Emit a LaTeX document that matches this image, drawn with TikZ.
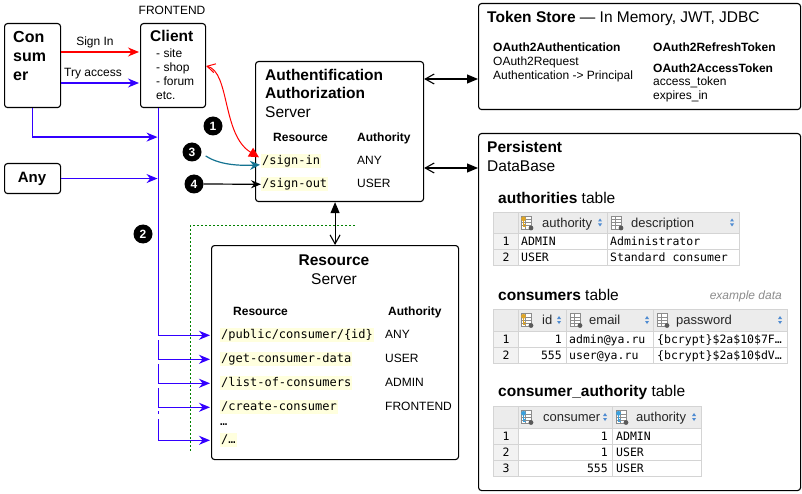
\documentclass[tikz,border=0pt]{standalone}
\usepackage{fontspec}
\setmainfont{Liberation Sans}
\setmonofont{DejaVu Sans Mono}
\usetikzlibrary{arrows.meta,calc}
\definecolor{cblue}{RGB}{51,0,255}
\definecolor{cred}{RGB}{255,0,0}
\definecolor{cteal}{RGB}{20,115,145}
\definecolor{cgreen}{RGB}{0,128,0}
\definecolor{hl}{RGB}{255,255,222}
\definecolor{thbg}{RGB}{236,236,236}
\definecolor{idxbg}{RGB}{242,242,242}
\definecolor{tgrid}{RGB}{212,212,212}
\definecolor{sortc}{RGB}{80,140,210}
\definecolor{keyy}{RGB}{222,165,40}
\definecolor{keyb}{RGB}{60,160,220}
\definecolor{icong}{RGB}{140,140,140}
\definecolor{icond}{RGB}{90,90,90}
\newcommand\fz[2]{\fontsize{#1}{#2}\selectfont}
\newcommand\colicon[2]{%
  \begin{scope}[shift={(#1,#2)}]
    \fill[white] (0,0) rectangle (10,13);
    \draw[icong, line width=0.6pt] (0,0) rectangle (10,13) (0,3.5) -- (10,3.5) (0,6.5) -- (10,6.5) (0,9.5) -- (10,9.5) (4,0) -- (4,13);
    \fill[icond] (10,12) circle (2.4);
  \end{scope}}
\newcommand\keyicon[3]{%
  \colicon{#1}{#2}
  \begin{scope}[shift={(#1,#2)}]
    \fill[#3] (2.5,2.8) circle (2.4);
    \fill[#3] (1.7,4) rectangle (3.3,11.5);
    \fill[#3] (3.3,8) rectangle (5,9.2);
    \fill[#3] (3.3,10.3) rectangle (5,11.5);
  \end{scope}}
\newcommand\sortmk[2]{%
  \fill[sortc] (#1-2,#2-1) -- (#1+2,#2-1) -- (#1,#2-4) -- cycle;
  \fill[sortc] (#1-2,#2+1) -- (#1+2,#2+1) -- (#1,#2+4) -- cycle;}
\begin{document}
\begin{tikzpicture}[x=1pt,y=-1pt,
  box/.style={draw, line width=1.1pt, rounded corners=3pt, anchor=north west, inner sep=0pt},
  txt/.style={inner sep=0pt, anchor=base west},
  rg/.style={txt, font=\fz{12}{14}},
  bd/.style={txt, font=\bfseries\fz{12}{14}},
  big/.style={txt, font=\bfseries\fz{15.5}{19}},
  bigr/.style={txt, font=\fz{15.5}{19}},
  hlt/.style={txt, fill=hl, inner sep=1pt, text height=9pt, text depth=3pt, font=\ttfamily\fz{12}{14}},
  badge/.style={circle, fill=black, text=white, font=\bfseries\fz{12}{14}, minimum size=19pt, inner sep=0pt},
  barrow/.style={draw=cblue, line width=1.2pt, shorten >=1pt, -{Stealth[length=11pt,width=9pt]}},
  dbl/.style={draw, line width=1.1pt, {Straight Barb[length=9pt,width=10pt]}-{Triangle[length=11pt,width=9pt]}},
  th/.style={txt, font=\fz{13}{15}, text=black!85},
  td/.style={txt, font=\ttfamily\fz{11.5}{14}},
  tdr/.style={td, anchor=base east},
  tdc/.style={td, anchor=base},
]
\fill[white] (0,0) rectangle (802,494);
\useasboundingbox (0,0) rectangle (802,494);

% ---------- boxes
\node[box, minimum width=56pt, minimum height=84pt] (consumer) at (4,23) {};
\node[box, minimum width=65pt, minimum height=84pt] (client) at (140,23) {};
\node[box, minimum width=56pt, minimum height=30pt] (any) at (4,163) {};
\node[box, minimum width=168pt, minimum height=140pt] (auth) at (255,61) {};
\node[box, minimum width=322pt, minimum height=106pt] (token) at (478,3) {};
\node[box, minimum width=322pt, minimum height=357pt] (persist) at (478,133) {};
\node[box, minimum width=247pt, minimum height=214pt] (rs) at (211,245) {};

% ---------- left texts
\node[rg, anchor=base] (fe) at (172,14.3) {FRONTEND};
\node[txt, font=\bfseries\fz{16}{19}] (con1) at (13,42.8) {Con};
\node[txt, font=\bfseries\fz{16}{19}] (con2) at (13,62) {sum};
\node[txt, font=\bfseries\fz{16}{19}] (con3) at (13,81) {er};
\node[big] (clt) at (150,41.5) {Client};
\node[rg] (cl1) at (156,57.3) {- site};
\node[rg] (cl2) at (156,71.3) {- shop};
\node[rg] (cl3) at (156,85.3) {- forum};
\node[rg] (cl4) at (156,99.3) {etc.};
\node[rg, anchor=base] (lsign) at (95,45.3) {Sign In};
\node[rg, anchor=base] (ltry) at (93,76.3) {Try access};
\node[txt, font=\bfseries\fz{15}{18}, anchor=base] (anyt) at (32,182.5) {Any};

% ---------- auth server
\node[big] (au1) at (265,80.7) {Authentification};
\node[big] (au2) at (265,99) {Authorization};
\node[bigr] (au3) at (265,117.7) {Server};
\node[bd] (auh1) at (273,141.3) {Resource};
\node[bd] (auh2) at (357,141.3) {Authority};
\node[hlt] (si) at (261,164.3) {/sign-in};
\node[rg] (sia) at (357,164.3) {ANY};
\node[hlt] (so) at (261,187.3) {/sign-out};
\node[rg] (soa) at (357,187.3) {USER};

% ---------- token store
\node[txt, font=\fz{15.5}{19}] (tkh) at (487,22.6) {\textbf{Token Store} — In Memory, JWT, JDBC};
\node[bd] (tk1) at (493,52) {OAuth2Authentication};
\node[rg] (tk2) at (493,66) {OAuth2Request};
\node[rg] (tk3) at (493,80) {Authentication -> Principal};
\node[bd] (tk4) at (653,52) {OAuth2RefreshToken};
\node[bd] (tk5) at (653,72.3) {OAuth2AccessToken};
\node[rg] (tk6) at (653,85.6) {access\_token};
\node[rg] (tk7) at (653,100) {expires\_in};

% ---------- persistent
\node[big] (pe1) at (487,152.3) {Persistent};
\node[bigr] (pe2) at (487,171.7) {DataBase};
\node[txt, font=\fz{15.5}{19}] (t1t) at (498,203.4) {\textbf{authorities} table};
\node[txt, font=\fz{15.5}{19}] (t2t) at (498,300.6) {\textbf{consumers} table};
\node[txt, font=\itshape\fz{12}{14}, text=black!45, anchor=base east] (exd) at (782,299.5) {example data};
\node[txt, font=\fz{15.5}{19}] (t3t) at (498,396.6) {\textbf{consumer\_authority} table};

% table 1
\fill[thbg] (493,212) rectangle (739,233);
\fill[idxbg] (493,233) rectangle (518,265);
\draw[tgrid, line width=0.8pt] (493,212) rectangle (739,265) (493,233) -- (739,233) (493,249) -- (739,249) (518,212) -- (518,265) (607,212) -- (607,265);
\keyicon{521}{216}{keyy}
\node[th] (t1a) at (542,227) {authority};
\sortmk{600}{222.5}
\colicon{611}{216}
\node[th] (t1b) at (631,227) {description};
\sortmk{732}{222.5}
\node[tdc] (t1i1) at (506,245) {1};
\node[td] (t1c1) at (521,245) {ADMIN};
\node[td] (t1d1) at (610,245) {Administrator};
\node[tdc] (t1i2) at (506,261) {2};
\node[td] (t1c2) at (521,261) {USER};
\node[td] (t1d2) at (610,261) {Standard consumer};

% table 2
\fill[thbg] (493,309) rectangle (787,331);
\fill[idxbg] (493,331) rectangle (518,363);
\draw[tgrid, line width=0.8pt] (493,309) rectangle (787,363) (493,331) -- (787,331) (493,347) -- (787,347) (518,309) -- (518,363) (566,309) -- (566,363) (653,309) -- (653,363);
\keyicon{521}{313.5}{keyy}
\node[th] (t2a) at (542,324.5) {id};
\sortmk{559}{320}
\colicon{570}{313.5}
\node[th] (t2b) at (589,324.5) {email};
\sortmk{647}{320}
\colicon{657}{313.5}
\node[th] (t2c) at (676,324.5) {password};
\sortmk{780}{320}
\node[tdc] (t2i1) at (506,343) {1};
\node[tdr] (t2d1) at (562,343) {1};
\node[td] (t2e1) at (569,343) {admin@ya.ru};
\node[td] (t2p1) at (657,343) {\{bcrypt\}\$2a\$10\$7F…};
\node[tdc] (t2i2) at (506,359) {2};
\node[tdr] (t2d2) at (562,359) {555};
\node[td] (t2e2) at (569,359) {user@ya.ru};
\node[td] (t2p2) at (657,359) {\{bcrypt\}\$2a\$10\$dV…};

% table 3
\fill[thbg] (493,406) rectangle (701,428);
\fill[idxbg] (493,428) rectangle (518,476);
\draw[tgrid, line width=0.8pt] (493,406) rectangle (701,476) (493,428) -- (701,428) (493,444) -- (701,444) (493,460) -- (701,460) (518,406) -- (518,476) (612,406) -- (612,476);
\keyicon{521}{410.5}{keyb}
\node[th] (t3a) at (543,421.5) {consumer};
\sortmk{605}{417}
\keyicon{616}{410.5}{keyb}
\node[th] (t3b) at (636,421.5) {authority};
\sortmk{694}{417}
\node[tdc] (t3i1) at (506,440) {1};
\node[tdr] (t3c1) at (608,440) {1};
\node[td] (t3u1) at (616,440) {ADMIN};
\node[tdc] (t3i2) at (506,456) {2};
\node[tdr] (t3c2) at (608,456) {1};
\node[td] (t3u2) at (616,456) {USER};
\node[tdc] (t3i3) at (506,472) {3};
\node[tdr] (t3c3) at (608,472) {555};
\node[td] (t3u3) at (616,472) {USER};

% ---------- resource server
\node[big, anchor=base] (rs1) at (334,265.7) {Resource};
\node[bigr, anchor=base] (rs2) at (334,284.7) {Server};
\node[bd] (rsh1) at (233,315.3) {Resource};
\node[bd] (rsh2) at (388,315.3) {Authority};
\node[hlt] (r1) at (220,338.3) {/public/consumer/\{id\}};
\node[rg] (ra1) at (385,338.3) {ANY};
\node[hlt] (r2) at (220,362.3) {/get-consumer-data};
\node[rg] (ra2) at (385,362.3) {USER};
\node[hlt] (r3) at (220,386.3) {/list-of-consumers};
\node[rg] (ra3) at (385,386.3) {ADMIN};
\node[hlt] (r4) at (220,410.3) {/create-consumer};
\node[rg] (ra4) at (385,410.3) {FRONTEND};
\node[txt, font=\ttfamily\fz{12}{14}] (rdots) at (220,425) {…};
\node[hlt] (r5) at (220,443.3) {/…};

% ---------- badges
\node[badge] (b1) at (213,126) {1};
\node[badge] (b3) at (192,152) {3};
\node[badge] (b4) at (194,184) {4};
\node[badge] (b2) at (143,234) {2};

% ---------- connectors
\coordinate (bus) at ([xshift=-14.5pt]client.south);
\draw[draw=cred, line width=1.2pt, shorten >=1pt, -{Stealth[length=11pt,width=9pt]}] ([yshift=-29pt]consumer.north east) -- ([yshift=-29pt]client.north west);
\draw[barrow] ([yshift=-60pt]consumer.north east) -- ([yshift=-60pt]client.north west);
\draw[barrow] (consumer.south) |- ([yshift=-29pt]bus);
\draw[barrow] (any.east) -- (bus |- any.east);
\draw[barrow] (bus) -- (bus |- r1.west) -- (rs.west |- r1.west);
\draw[barrow] ($(bus |- r1.west)+(0,5)$) |- (rs.west |- r2.west);
\draw[barrow] ($(bus |- r2.west)+(0,5)$) |- (rs.west |- r3.west);
\draw[barrow] ($(bus |- r3.west)+(0,5)$) |- (rs.west |- r4.west);
\draw[draw=cblue, line width=1.2pt] ($(bus |- r4.west)+(0,4)$) -- ($(bus |- r4.west)+(0,7)$);
\draw[barrow] ($(bus |- r4.west)+(0,12)$) |- (rs.west |- r5.west);

\coordinate (tka) at ([yshift=-18pt]auth.north east);
\draw[dbl] (tka) -- (token.west |- tka);
\coordinate (pka) at ([yshift=-107pt]auth.north east);
\draw[dbl] (pka) -- (persist.west |- pka);
\draw[dbl] (rs.north) -- (auth.south -| rs.north);

\draw[draw=cred, line width=1pt, {Straight Barb[length=8pt,width=9pt]}-{Triangle[length=10pt,width=10pt]}] ([yshift=-43pt]client.north east) .. controls (230,72) and (222,135) .. ($(si.west)+(-2,-4)$);
\draw[draw=cteal, line width=1.2pt, -{Stealth[length=10pt,width=9pt]}] ($(b3.east)+(4,4)$) .. controls (218,164) and (236,166) .. ($(si.west)+(-1,3.5)$);
\draw[line width=1.2pt, -{Stealth[length=10pt,width=8pt]}] (b4.east) -- (so.west);

\coordinate (g1) at (355,226);
\coordinate (g2) at (190,226);
\coordinate (g3) at (190,452);
\draw[cgreen, line width=1pt, dash pattern=on 2pt off 2pt] (g1) -- (g2) -- (g3);
\end{tikzpicture}
\end{document}
